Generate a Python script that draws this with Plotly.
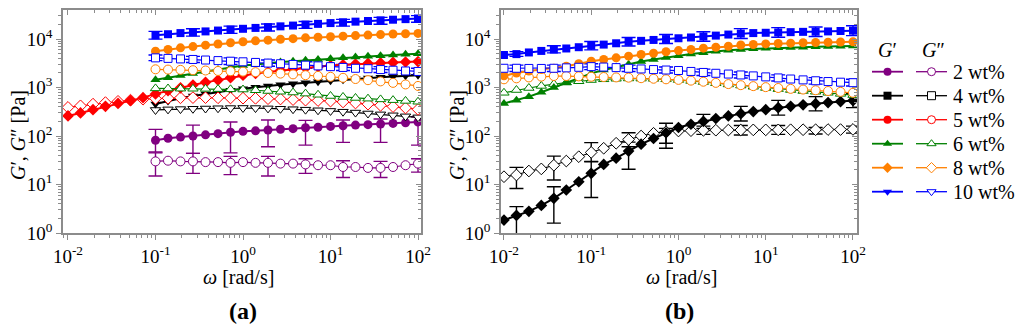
import plotly.graph_objects as go

# ---------------- data ----------------
omega = [0.01, 0.0139, 0.0193, 0.0268, 0.0373, 0.0518, 0.0720,
         0.1, 0.139, 0.193, 0.268, 0.373, 0.518, 0.720,
         1, 1.39, 1.93, 2.68, 3.73, 5.18, 7.20,
         10, 13.9, 19.3, 26.8, 37.3, 51.8, 72.0, 100]
omega_a = omega[7:]           # panel (a) sweep starts at 0.1 rad/s (except 5 wt%)
err_idx_a = [0, 3, 6, 9, 12, 15, 18, 21]
err_idx_b = [1, 4, 7, 10, 13, 16, 19, 22, 25, 28]

# panel (a)
a_G1_2 = [82, 90, 95, 100, 106, 112, 120, 125, 128, 133, 138, 142, 148, 152, 158, 163, 168, 172, 177, 182, 188, 195]
a_G2_2 = [30, 31, 30, 30, 29, 29, 28, 29, 28, 28, 27, 27, 26, 25, 25, 23, 23, 22, 22, 23, 25, 27]
a_G1_4 = [460, 530, 600, 670, 740, 810, 880, 950, 1020, 1080, 1140, 1200, 1260, 1320, 1380, 1450, 1520, 1580, 1640, 1700, 1760, 1800]
a_G2_4 = [345, 355, 360, 365, 370, 375, 378, 380, 378, 372, 365, 358, 350, 340, 330, 318, 305, 292, 280, 268, 255, 243]
a_G1_5 = [260, 300, 350, 410, 470, 540, 620, 740, 860, 990, 1130, 1280, 1430, 1600, 1800, 1950, 2100, 2250, 2400, 2550, 2700, 2850, 2950, 3050, 3150, 3230, 3300, 3370, 3430]
a_G2_5 = [390, 420, 455, 490, 520, 550, 575, 595, 605, 615, 620, 620, 615, 610, 605, 600, 590, 580, 565, 550, 540, 525, 505, 480, 455, 430, 405, 380, 355]
a_G1_6 = [1450, 1600, 1780, 1950, 2150, 2350, 2600, 2850, 3000, 3200, 3350, 3500, 3650, 3800, 3950, 4100, 4250, 4400, 4550, 4700, 4850, 5000]
a_G2_6 = [960, 955, 950, 945, 940, 930, 920, 910, 880, 850, 820, 790, 750, 710, 670, 640, 610, 590, 570, 550, 530, 510]
a_G1_8 = [5600, 6100, 6600, 7000, 7500, 7900, 8400, 8800, 9200, 9500, 9900, 10200, 10600, 10900, 11200, 11500, 11800, 12100, 12400, 12700, 12900, 13100]
a_G2_8 = [2380, 2350, 2320, 2280, 2250, 2200, 2170, 2130, 2080, 2000, 1940, 1870, 1800, 1740, 1670, 1590, 1500, 1420, 1340, 1250, 1160, 1080]
a_G1_10 = [12000, 12600, 13300, 13800, 14400, 15000, 15700, 16300, 17000, 17600, 18300, 19000, 19900, 20600, 21400, 22200, 22900, 23600, 24300, 25100, 25800, 26600]
a_G2_10 = [4100, 4000, 3900, 3800, 3700, 3600, 3500, 3400, 3300, 3200, 3100, 3000, 2900, 2800, 2700, 2600, 2500, 2450, 2350, 2280, 2200, 2150]

# panel (a) error-bar bounds (at err_idx_a)
a_G1_2_hi = [137, 168, 195, 215, 210, 215, 225, 250]
a_G1_2_lo = [47, 44, 45, 60, 65, 74, 74, 65]
a_G2_2_hi = [45, 44, 38, 38, 34, 31, 30, 34]
a_G2_2_lo = [15, 17, 16, 15, 17, 14, 14, 18]
a_G1_10_hi = [14400, 16300, 18500, 20500, 23000, 25500, 28000, 30500]
a_G1_10_lo = [10000, 11500, 13100, 14700, 16600, 18500, 20300, 22200]
a_G2_10_hi = [4700, 4400, 4100, 3700, 3400, 3000, 2700, 2500]
a_G2_10_lo = [3600, 3300, 3000, 2750, 2500, 2250, 2050, 1850]

# panel (b)
b_G1_4 = [1.85, 2.3, 2.8, 3.7, 5.2, 7.7, 11.4, 17, 26, 35, 49, 68, 89, 117, 150, 175, 200, 230, 260, 290, 320, 350, 385, 410, 440, 465, 490, 515, 540]
b_G2_4 = [14.5, 15.7, 19, 21, 25, 30.5, 37.5, 46, 56, 71, 85, 100, 114, 123, 127, 129, 131, 132, 133, 133, 134, 134, 134, 135, 135, 135, 136, 136, 137]
b_G1_6 = [470, 550, 650, 800, 1000, 1250, 1580, 1960, 2300, 2650, 3030, 3450, 3800, 4180, 4550, 4900, 5250, 5600, 5900, 6130, 6300, 6450, 6600, 6700, 6800, 6930, 7020, 7100, 7200]
b_G2_6 = [780, 890, 980, 1080, 1180, 1270, 1350, 1430, 1480, 1520, 1540, 1530, 1510, 1480, 1430, 1370, 1300, 1230, 1160, 1100, 1040, 980, 930, 890, 850, 820, 780, 740, 700]
b_G1_8 = [1750, 2000, 2200, 2350, 2500, 2750, 3100, 3500, 3800, 4100, 4450, 4800, 5100, 5480, 5800, 6100, 6500, 6800, 7100, 7550, 7750, 7950, 8100, 8250, 8400, 8500, 8600, 8700, 8800]
b_G2_8 = [1480, 1550, 1620, 1680, 1730, 1730, 1700, 1670, 1650, 1620, 1600, 1560, 1520, 1480, 1440, 1390, 1320, 1250, 1180, 1120, 1070, 1020, 980, 940, 910, 880, 850, 815, 780]
b_G1_10 = [4700, 4900, 5300, 5700, 6100, 6400, 6800, 7300, 7700, 8200, 8800, 9200, 9600, 10000, 10400, 10800, 11300, 11800, 12400, 13000, 13300, 13500, 13700, 13900, 14100, 14200, 14400, 14700, 14900]
b_G2_10 = [2500, 2500, 2480, 2480, 2500, 2550, 2620, 2700, 2650, 2580, 2500, 2420, 2350, 2300, 2250, 2150, 2050, 1970, 1900, 1820, 1740, 1660, 1580, 1500, 1440, 1380, 1330, 1290, 1260]

# panel (b) error-bar bounds (at err_idx_b)
b_G1_4_hi = [3.5, 9, 29.5, 75, 183, 280, 410, 545, 650, 760]
b_G1_4_lo = [0.5, 1.6, 5.4, 20.6, 56, 143, 205, 270, 330, 385]
b_G2_4_hi = [22.6, 38.6, 73, 117, 144, 160, 165, 165, 150, 160]
b_G2_4_lo = [8.3, 12.4, 30, 60, 71, 108, 105, 108, 110, 115]
b_G1_10_hi = [5500, 7300, 8900, 10800, 12400, 14200, 16400, 17200, 17800, 18800]
b_G1_10_lo = [4400, 5200, 6000, 7200, 8100, 9000, 10300, 10900, 11300, 11800]
b_G2_10_hi = [2900, 2900, 3100, 2900, 2650, 2400, 2100, 1830, 1600, 1480]
b_G2_10_lo = [2150, 2150, 2350, 2150, 2000, 1780, 1580, 1370, 1180, 1080]

# legend content
legend_labels = ["2 wt%", "4 wt%", "5 wt%", "6 wt%", "8 wt%", "10 wt%"]
legend_colors = ["#800080", "#000000", "#FF0000", "#008000", "#FF8000", "#0000FF"]
legend_symbols = ["circle", "square", "circle", "triangle-up", "diamond", "triangle-down"]

# colours per concentration
C = {2: "#800080", 4: "#000000", 5: "#FF0000", 6: "#008000", 8: "#FF8000", 10: "#0000FF"}

FONT = "Liberation Serif"
W, H = 1024, 330
AXC = "#8c8c8c"

fig = go.Figure()


def series(x, y, color, symbol, filled, xa, ya, size=9):
    fig.add_trace(go.Scatter(
        x=x, y=y, mode="lines+markers", xaxis=xa, yaxis=ya, showlegend=False,
        line=dict(color=color, width=2.0 if filled else 1.2),
        marker=dict(symbol=symbol, size=size,
                    color=color if filled else "white",
                    line=dict(color=color, width=0 if filled else 1.0)),
        hoverinfo="skip"))


def errbars(x, y, idx, hi, lo, color, xa, ya):
    xs = [x[i] for i in idx]
    ys = [y[i] for i in idx]
    fig.add_trace(go.Scatter(
        x=xs, y=ys, mode="markers", xaxis=xa, yaxis=ya, showlegend=False,
        marker=dict(size=2, opacity=0, color=color),
        error_y=dict(type="data", symmetric=False,
                     array=[h - v for h, v in zip(hi, ys)],
                     arrayminus=[v - l for l, v in zip(lo, ys)],
                     color=color, thickness=1.4, width=7),
        hoverinfo="skip"))


# ---- panel (a) ----
xa, ya = "x", "y"
errbars(omega_a, a_G1_2, err_idx_a, a_G1_2_hi, a_G1_2_lo, C[2], xa, ya)
errbars(omega_a, a_G2_2, err_idx_a, a_G2_2_hi, a_G2_2_lo, C[2], xa, ya)
errbars(omega_a, a_G1_10, err_idx_a, a_G1_10_hi, a_G1_10_lo, C[10], xa, ya)
errbars(omega_a, a_G2_10, err_idx_a, a_G2_10_hi, a_G2_10_lo, C[10], xa, ya)
series(omega_a, a_G2_2, C[2], "circle", False, xa, ya)
series(omega_a, a_G1_2, C[2], "circle", True, xa, ya)
series(omega_a, a_G2_4, C[4], "triangle-down", False, xa, ya)
series(omega_a, a_G1_4, C[4], "triangle-down", True, xa, ya)
series(omega, a_G2_5, C[5], "diamond", False, xa, ya)
series(omega, a_G1_5, C[5], "diamond", True, xa, ya)
series(omega_a, a_G2_6, C[6], "triangle-up", False, xa, ya)
series(omega_a, a_G1_6, C[6], "triangle-up", True, xa, ya)
series(omega_a, a_G2_8, C[8], "circle", False, xa, ya)
series(omega_a, a_G1_8, C[8], "circle", True, xa, ya)
series(omega_a, a_G2_10, C[10], "square", False, xa, ya, size=8)
series(omega_a, a_G1_10, C[10], "square", True, xa, ya, size=8)

# ---- panel (b) ----
xb, yb = "x2", "y2"
errbars(omega, b_G1_4, err_idx_b, b_G1_4_hi, b_G1_4_lo, C[4], xb, yb)
errbars(omega, b_G2_4, err_idx_b, b_G2_4_hi, b_G2_4_lo, C[4], xb, yb)
errbars(omega, b_G1_10, err_idx_b, b_G1_10_hi, b_G1_10_lo, C[10], xb, yb)
errbars(omega, b_G2_10, err_idx_b, b_G2_10_hi, b_G2_10_lo, C[10], xb, yb)
series(omega, b_G2_4, C[4], "diamond", False, xb, yb)
series(omega, b_G1_4, C[4], "diamond", True, xb, yb)
series(omega, b_G2_6, C[6], "triangle-up", False, xb, yb)
series(omega, b_G1_6, C[6], "triangle-up", True, xb, yb)
series(omega, b_G2_8, C[8], "circle", False, xb, yb)
series(omega, b_G1_8, C[8], "circle", True, xb, yb)
series(omega, b_G2_10, C[10], "square", False, xb, yb, size=8)
series(omega, b_G1_10, C[10], "square", True, xb, yb, size=8)

# ---- legend drawn on its own pixel-coordinate axes ----
leg_y0, leg_dy = 71.7, 24.0
for i, (lab, col, sym) in enumerate(zip(legend_labels, legend_colors, legend_symbols)):
    yy = leg_y0 + i * leg_dy
    for (x0, x1, xm, filled) in [(872, 903, 887.5, True), (916, 947, 931.5, False)]:
        fig.add_trace(go.Scatter(x=[x0, x1], y=[yy, yy], mode="lines", xaxis="x6", yaxis="y6",
                                 line=dict(color=col, width=1.8 if filled else 1.3),
                                 showlegend=False, hoverinfo="skip"))
        fig.add_trace(go.Scatter(x=[xm], y=[yy], mode="markers", xaxis="x6", yaxis="y6",
                                 marker=dict(symbol=sym, size=8,
                                             color=col if filled else "white",
                                             line=dict(color=col, width=0 if filled else 1.0)),
                                 showlegend=False, hoverinfo="skip"))
    fig.add_annotation(x=951 / W, y=1 - yy / H, xref="paper", yref="paper", text=lab,
                       showarrow=False, xanchor="left", yanchor="middle",
                       font=dict(family=FONT, size=20, color="black"))
fig.add_annotation(x=887.5 / W, y=1 - 50 / H, xref="paper", yref="paper", text="<i>G</i>′",
                   showarrow=False, xanchor="center", yanchor="middle",
                   font=dict(family=FONT, size=20, color="black"))
fig.add_annotation(x=933 / W, y=1 - 50 / H, xref="paper", yref="paper", text="<i>G</i>″",
                   showarrow=False, xanchor="center", yanchor="middle",
                   font=dict(family=FONT, size=20, color="black"))

# dummy traces so mirror axes are drawn
for xx, yy in [("x3", "y3"), ("x4", "y4")]:
    fig.add_trace(go.Scatter(x=[1], y=[1], mode="markers", xaxis=xx, yaxis=yy,
                             marker=dict(opacity=0), showlegend=False, hoverinfo="skip"))

# ---- axes ----
xt_vals = [0.01, 0.1, 1, 10, 100]
xt_text = ["10<sup>-2</sup>", "10<sup>-1</sup>", "10<sup>0</sup>", "10<sup>1</sup>", "10<sup>2</sup>"]
yt_vals = [1, 10, 100, 1000, 10000]
yt_text = ["10<sup>0</sup>", "10<sup>1</sup>", "10<sup>2</sup>", "10<sup>3</sup>", "10<sup>4</sup>"]

dom_a = [63 / W, 421 / W]
dom_b = [501 / W, 857 / W]
dom_y = [1 - 233 / H, 1 - 10 / H]
rng_a = [-2.057, 2.034]
rng_b = [-2.034, 2.046]
rng_y = [0, 4.6]

tickfont = dict(family=FONT, size=19, color="black")


def xax(dom, rng, anchor, side="bottom", ticks="outside", labels=True, overlay=None):
    d = dict(type="log", domain=dom, range=rng, anchor=anchor, side=side,
             showline=True, linecolor=AXC, linewidth=1.5, mirror=False,
             ticks=ticks, ticklen=5, tickwidth=1.2, tickcolor=AXC,
             tickvals=xt_vals, ticktext=xt_text, showticklabels=labels,
             tickfont=tickfont, showgrid=False, zeroline=False,
             minor=dict(ticks=ticks, ticklen=3, tickwidth=1, tickcolor=AXC,
                        dtick="D1", showgrid=False))
    if overlay:
        d["overlaying"] = overlay
    return d


def yax(dom, rng, anchor, side="left", ticks="outside", labels=True, overlay=None):
    d = dict(type="log", domain=dom, range=rng, anchor=anchor, side=side,
             showline=True, linecolor=AXC, linewidth=1.5, mirror=False,
             ticks=ticks, ticklen=5, tickwidth=1.2, tickcolor=AXC,
             tickvals=yt_vals, ticktext=yt_text, showticklabels=labels,
             tickfont=tickfont, showgrid=False, zeroline=False,
             minor=dict(ticks=ticks, ticklen=3, tickwidth=1, tickcolor=AXC,
                        dtick="D1", showgrid=False))
    if overlay:
        d["overlaying"] = overlay
    return d


fig.update_layout(
    width=W, height=H, margin=dict(l=0, r=0, t=0, b=0, pad=0, autoexpand=False),
    paper_bgcolor="white", plot_bgcolor="rgba(0,0,0,0)", showlegend=False,
    xaxis=xax(dom_a, rng_a, "y"),
    yaxis=yax(dom_y, rng_y, "x"),
    xaxis2=xax(dom_b, rng_b, "y2"),
    yaxis2=yax(dom_y, rng_y, "x2"),
    xaxis3=xax(dom_a, rng_a, "y3", side="top", ticks="inside", labels=False, overlay="x"),
    yaxis3=yax(dom_y, rng_y, "x3", side="right", ticks="inside", labels=False, overlay="y"),
    xaxis4=xax(dom_b, rng_b, "y4", side="top", ticks="inside", labels=False, overlay="x2"),
    yaxis4=yax(dom_y, rng_y, "x4", side="right", ticks="inside", labels=False, overlay="y2"),
    xaxis6=dict(domain=[860 / W, 1], range=[860, 1024], visible=False, anchor="y6"),
    yaxis6=dict(domain=[0, 1], range=[330, 0], visible=False, anchor="x6"),
)

# axis titles and panel labels
for xc, xl, lab in [(238, 243, "(a)"), (681, 679, "(b)")]:
    fig.add_annotation(x=xc / W, y=1 - 277 / H, xref="paper", yref="paper",
                       text="<i>ω</i> [rad/s]", showarrow=False, xanchor="center", yanchor="middle",
                       font=dict(family=FONT, size=20, color="black"))
    fig.add_annotation(x=xl / W, y=1 - 311 / H, xref="paper", yref="paper",
                       text="<b>" + lab + "</b>", showarrow=False, xanchor="center", yanchor="middle",
                       font=dict(family=FONT, size=24, color="black"))
for xc in [18, 457]:
    fig.add_annotation(x=xc / W, y=1 - 135 / H, xref="paper", yref="paper",
                       text="<i>G</i>′, <i>G</i>″ [Pa]", showarrow=False, textangle=-90,
                       xanchor="center", yanchor="middle",
                       font=dict(family=FONT, size=20, color="black"))

fig.write_html("out.html", config={"displayModeBar": False},
               post_script="document.body.style.margin='0px';document.body.style.overflow='hidden';")
